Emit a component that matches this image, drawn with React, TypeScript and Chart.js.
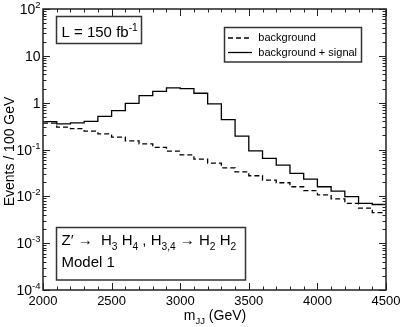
import { useEffect, useRef } from "react";
import { Chart, registerables } from "chart.js";

Chart.register(...registerables);

// ---- data ----
const binEdges = [
  2000, 2100, 2200, 2300, 2400, 2500, 2600, 2700, 2800, 2900, 3000, 3100, 3200,
  3300, 3400, 3500, 3600, 3700, 3800, 3900, 4000, 4100, 4200, 4300, 4400, 4500,
];
const background = [
  0.366, 0.301, 0.278, 0.247, 0.215, 0.184, 0.153, 0.132, 0.111, 0.092, 0.077,
  0.062, 0.051, 0.0406, 0.0334, 0.0275, 0.0222, 0.0195, 0.016, 0.0132, 0.0107,
  0.0088, 0.0071, 0.0056, 0.0045,
];
const backgroundPlusSignal = [
  0.394, 0.352, 0.369, 0.4, 0.512, 0.676, 0.968, 1.42, 1.74, 2.06, 1.99, 1.59,
  0.945, 0.433, 0.193, 0.0934, 0.0645, 0.0463, 0.031, 0.0234, 0.016, 0.0129,
  0.0099, 0.0071, 0.0067,
];
const xTickValues = [2000, 2500, 3000, 3500, 4000, 4500];
const xTickLabels = ["2000", "2500", "3000", "3500", "4000", "4500"];
const yTickValues = [100, 10, 1, 0.1, 0.01, 0.001, 0.0001];
const yTickBase = ["10", "10", "1", "10", "10", "10", "10"];
const yTickSup = ["2", "", "", "-1", "-2", "-3", "-4"];
const seriesLabels = ["background", "background + signal"];

const X_MIN = 2000;
const X_MAX = 4500;
const Y_MIN = 1e-4;
const Y_MAX = 1e2;

const FONT = '"Liberation Sans", Arial, Helvetica, sans-serif';

type Seg = { t: string; k?: "sub" | "sup" };

function segFont(size: number, s: Seg) {
  return `${s.k ? size * 0.68 : size}px ${FONT}`;
}

function richWidth(ctx: CanvasRenderingContext2D, segs: Seg[], size: number) {
  let w = 0;
  for (const s of segs) {
    ctx.font = segFont(size, s);
    w += ctx.measureText(s.t).width;
  }
  return w;
}

function drawRich(
  ctx: CanvasRenderingContext2D,
  x: number,
  y: number,
  segs: Seg[],
  size: number,
  align: "left" | "center" | "right"
) {
  const w = richWidth(ctx, segs, size);
  let cx = align === "left" ? x : align === "center" ? x - w / 2 : x - w;
  ctx.textAlign = "left";
  ctx.textBaseline = "alphabetic";
  for (const s of segs) {
    ctx.font = segFont(size, s);
    const dy = s.k === "sub" ? size * 0.3 : s.k === "sup" ? -size * 0.42 : 0;
    ctx.fillText(s.t, cx, y + dy);
    cx += ctx.measureText(s.t).width;
  }
}

function toSteps(values: number[]) {
  const pts = values.map((v, i) => ({ x: binEdges[i], y: v }));
  pts.push({ x: binEdges[values.length], y: values[values.length - 1] });
  return pts;
}

const decorPlugin = {
  id: "decor",
  afterDraw(chart: any) {
    const ctx: CanvasRenderingContext2D = chart.ctx;
    const xs = chart.scales.x;
    const ys = chart.scales.y;
    const { left, right, top, bottom } = chart.chartArea;
    ctx.save();
    ctx.fillStyle = "#000";
    ctx.strokeStyle = "#222";

    // ticks
    ctx.lineWidth = 1;
    ctx.beginPath();
    for (let v = X_MIN; v <= X_MAX + 1e-6; v += 100) {
      const px = Math.round(xs.getPixelForValue(v)) + 0.5;
      const len = v % 500 === 0 ? 7 : 3.5;
      ctx.moveTo(px, bottom);
      ctx.lineTo(px, bottom - len);
      ctx.moveTo(px, top);
      ctx.lineTo(px, top + len);
    }
    for (let e = -4; e <= 2; e++) {
      for (let m = 1; m <= 9; m++) {
        if (e === 2 && m > 1) break;
        const v = m * Math.pow(10, e);
        const py = Math.round(ys.getPixelForValue(v)) + 0.5;
        const len = m === 1 ? 7 : 3.5;
        ctx.moveTo(left, py);
        ctx.lineTo(left + len, py);
        ctx.moveTo(right, py);
        ctx.lineTo(right - len, py);
      }
    }
    ctx.stroke();

    // frame
    ctx.lineWidth = 1.5;
    ctx.strokeRect(left, top, right - left, bottom - top);

    // x tick labels
    ctx.font = `13px ${FONT}`;
    ctx.textAlign = "center";
    ctx.textBaseline = "alphabetic";
    xTickValues.forEach((v, i) => {
      ctx.fillText(xTickLabels[i], xs.getPixelForValue(v), 304.5);
    });

    // y tick labels
    yTickValues.forEach((v, i) => {
      const py = ys.getPixelForValue(v);
      const segs: Seg[] = [{ t: yTickBase[i] }];
      if (yTickSup[i]) segs.push({ t: yTickSup[i], k: "sup" });
      drawRich(ctx, 40.5, py + 5, segs, 14, "right");
    });

    // axis titles
    drawRich(ctx, 215, 320, [{ t: "m" }, { t: "JJ", k: "sub" }, { t: " (GeV)" }], 14, "center");
    ctx.save();
    ctx.translate(13.5, 151.5);
    ctx.rotate(-Math.PI / 2);
    ctx.font = `14px ${FONT}`;
    ctx.textAlign = "center";
    ctx.textBaseline = "alphabetic";
    ctx.fillText("Events / 100 GeV", 0, 0);
    ctx.restore();

    // boxes
    const box = (x: number, y: number, w: number, h: number) => {
      ctx.fillStyle = "#fff";
      ctx.fillRect(x, y, w, h);
      ctx.lineWidth = 1.5;
      ctx.strokeStyle = "#333";
      ctx.strokeRect(x, y, w, h);
      ctx.fillStyle = "#000";
    };

    // luminosity box
    box(56.5, 16.5, 85, 27);
    drawRich(ctx, 61.5, 37.3, [{ t: "L = 150 fb" }, { t: "-1", k: "sup" }], 15, "left");

    // legend box
    box(224.5, 27.5, 137, 34.5);
    ctx.strokeStyle = "#000";
    ctx.lineWidth = 1.3;
    ctx.setLineDash([5, 3]);
    ctx.beginPath();
    ctx.moveTo(228, 38);
    ctx.lineTo(252, 38);
    ctx.stroke();
    ctx.setLineDash([]);
    ctx.beginPath();
    ctx.moveTo(228, 52.5);
    ctx.lineTo(252, 52.5);
    ctx.stroke();
    ctx.font = `11px ${FONT}`;
    ctx.textAlign = "left";
    ctx.textBaseline = "middle";
    ctx.fillText(seriesLabels[0], 258.3, 38);
    ctx.fillText(seriesLabels[1], 258.3, 52.5);

    // process box
    box(56.5, 227.5, 189, 52.5);
    drawRich(
      ctx,
      61.5,
      245,
      [
        { t: "Z\u2032 \u2192  H" },
        { t: "3", k: "sub" },
        { t: " H" },
        { t: "4", k: "sub" },
        { t: " , H" },
        { t: "3,4", k: "sub" },
        { t: " \u2192 H" },
        { t: "2", k: "sub" },
        { t: " H" },
        { t: "2", k: "sub" },
      ],
      15,
      "left"
    );
    drawRich(ctx, 61.5, 267.3, [{ t: "Model 1" }], 15, "left");

    ctx.restore();
  },
};

export default function App() {
  const canvasRef = useRef<HTMLCanvasElement | null>(null);

  useEffect(() => {
    if (!canvasRef.current) return;
    const chart = new Chart(canvasRef.current, {
      type: "line",
      data: {
        datasets: [
          {
            label: seriesLabels[0],
            data: toSteps(background),
            stepped: "before",
            borderColor: "#000",
            borderWidth: 1.3,
            borderDash: [5, 3],
            pointRadius: 0,
            fill: false,
          },
          {
            label: seriesLabels[1],
            data: toSteps(backgroundPlusSignal),
            stepped: "before",
            borderColor: "#000",
            borderWidth: 1.3,
            pointRadius: 0,
            fill: false,
          },
        ],
      },
      options: {
        animation: false,
        responsive: false,
        maintainAspectRatio: false,
        devicePixelRatio: 1,
        layout: { padding: { left: 43, right: 16, top: 9, bottom: 37 } },
        plugins: { legend: { display: false }, tooltip: { enabled: false } },
        scales: {
          x: { type: "linear", min: X_MIN, max: X_MAX, display: false },
          y: { type: "logarithmic", min: Y_MIN, max: Y_MAX, display: false },
        },
      },
      plugins: [decorPlugin],
    });
    return () => chart.destroy();
  }, []);

  return (
    <div style={{ position: "fixed", left: 0, top: 0, width: 402, height: 327, background: "#fff" }}>
      <canvas ref={canvasRef} width={402} height={327} style={{ width: 402, height: 327 }} />
    </div>
  );
}
